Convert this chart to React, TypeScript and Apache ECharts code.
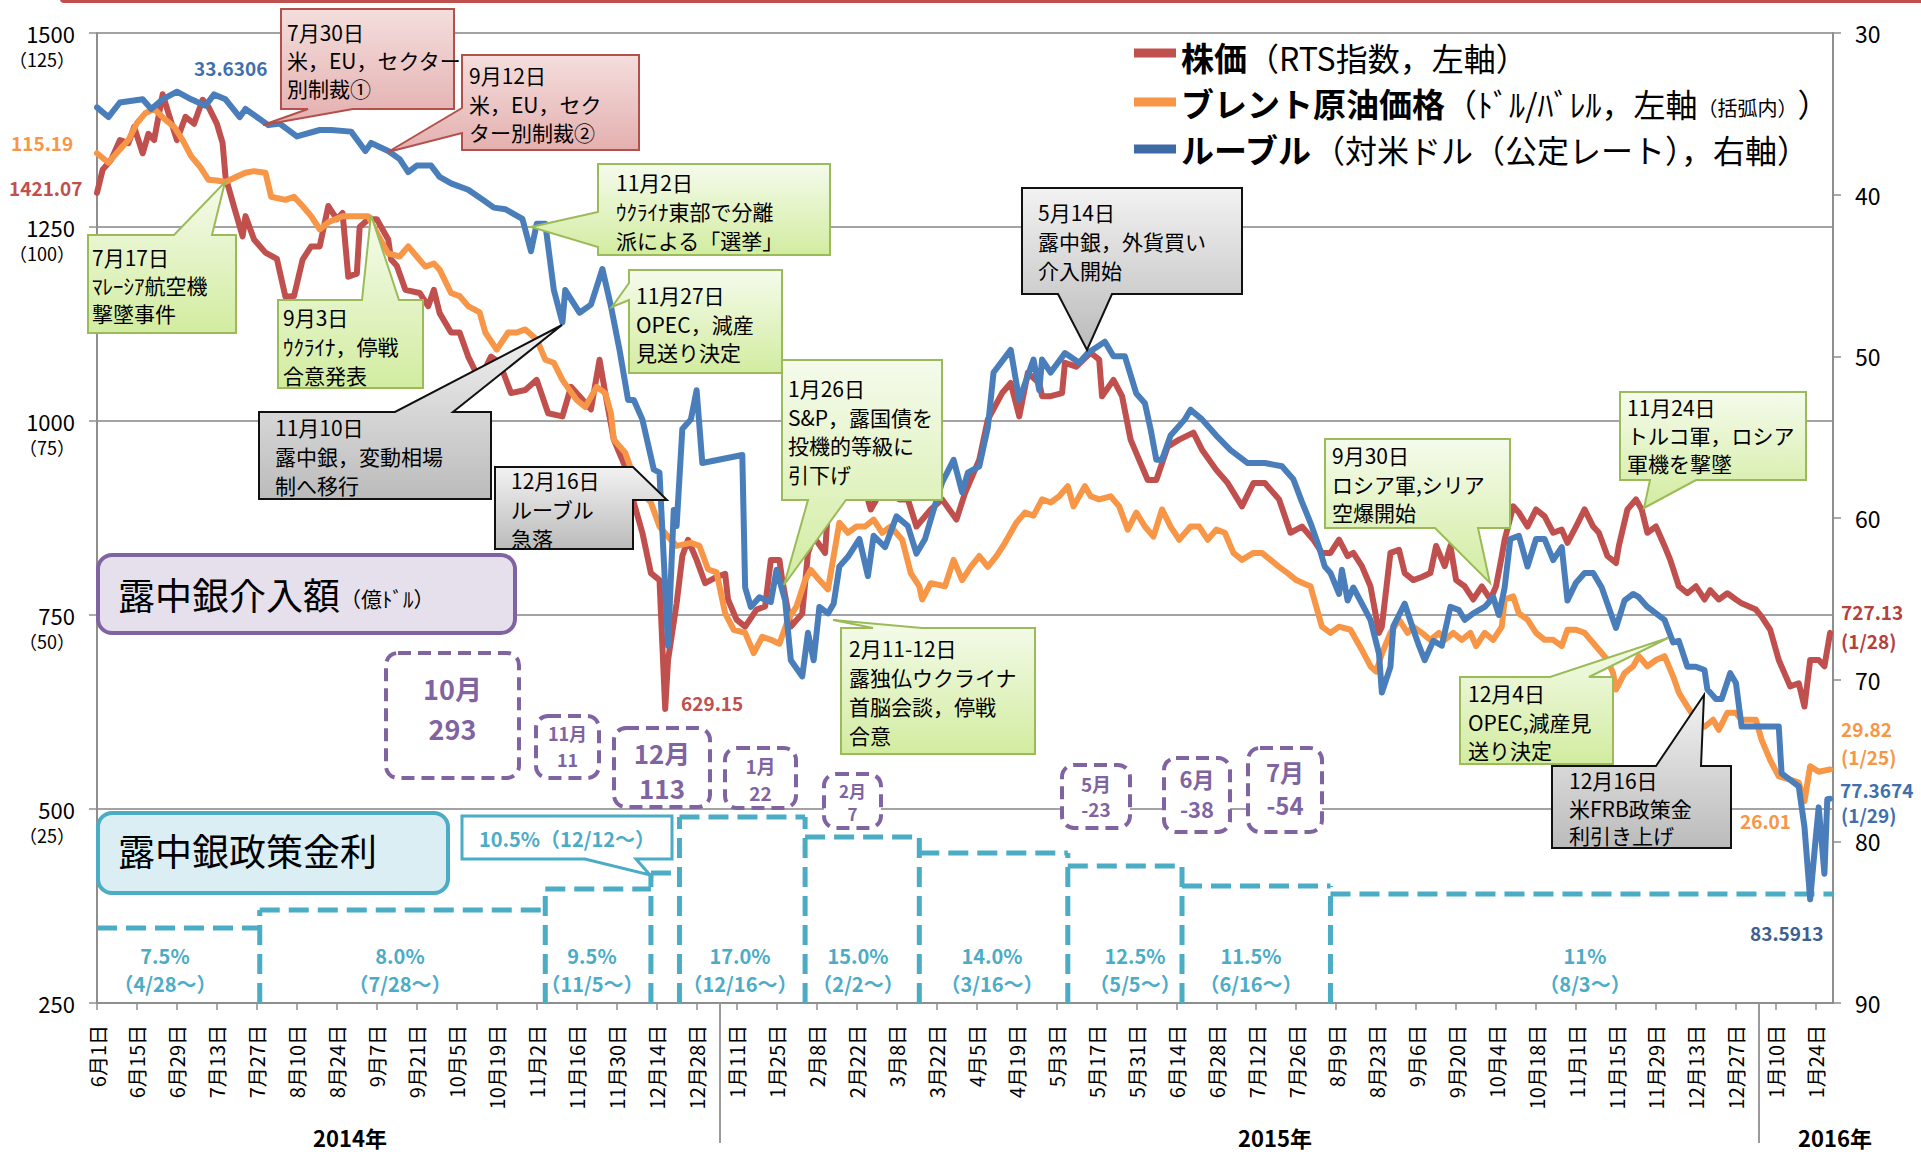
import React, { useEffect, useRef } from 'react';
import * as echarts from 'echarts';

const FONT = '"Noto Sans CJK JP", "Noto Sans", sans-serif';
const RED = '#C0504D';
const ORANGE = '#F79646';
const BLUE = '#4A7EBB';
const TEAL = '#4BACC6';
const PURPLE = '#8064A2';

// x axis: days since 2014-06-01, a tick every 14 days
const xTickLabels = [
  '6月1日', '6月15日', '6月29日', '7月13日', '7月27日', '8月10日', '8月24日', '9月7日', '9月21日', '10月5日', '10月19日',
  '11月2日', '11月16日', '11月30日', '12月14日', '12月28日',
  '1月11日', '1月25日', '2月8日', '2月22日', '3月8日', '3月22日', '4月5日', '4月19日', '5月3日', '5月17日', '5月31日',
  '6月14日', '6月28日', '7月12日', '7月26日', '8月9日', '8月23日', '9月6日', '9月20日', '10月4日', '10月18日', '11月1日',
  '11月15日', '11月29日', '12月13日', '12月27日',
  '1月10日', '1月24日',
];
const yearLabels = ['2014年', '2015年', '2016年'];
const leftTickMain = ['250', '500', '750', '1000', '1250', '1500'];
const leftTickSub = ['', '（25）', '（50）', '（75）', '（100）', '（125）'];

// RTS index (left axis): [day, value]
const rts: [number, number][] = [
  [0, 1294], [2, 1324], [5, 1337], [8, 1362], [11, 1358], [13, 1379], [16, 1345], [18, 1370], [20, 1362], [23, 1421], [26, 1385],
  [28, 1362], [31, 1392], [34, 1383], [37, 1414], [39, 1405], [42, 1383], [44, 1358], [45, 1315], [48, 1276], [51, 1238], [52, 1264],
  [55, 1234], [59, 1217], [63, 1209], [66, 1160], [69, 1161], [72, 1208], [75, 1225], [78, 1225], [81, 1277], [84, 1260], [86, 1268],
  [88, 1186], [91, 1190], [92, 1250], [95, 1260], [98, 1260], [102, 1234], [103, 1208], [105, 1200], [108, 1169], [113, 1165],
  [116, 1148], [118, 1169], [120, 1139], [124, 1114], [127, 1114], [130, 1083], [134, 1053], [138, 1083], [141, 1075], [145, 1036],
  [150, 1040], [154, 1053], [158, 1010], [163, 1006], [166, 1044], [169, 1032], [173, 1015], [176, 1079], [178, 1036], [181, 976],
  [185, 941], [188, 895], [191, 856], [194, 804], [197, 795], [199, 629], [200, 692], [203, 765], [205, 826], [207, 847], [210, 821],
  [213, 791], [217, 799], [220, 803], [221, 770], [224, 744], [227, 735], [231, 757], [234, 761], [236, 821], [239, 821], [240, 795],
  [243, 735], [247, 752], [249, 830], [251, 851], [255, 830], [256, 886], [259, 899], [262, 907], [267, 937], [271, 886], [275, 912],
  [281, 899], [284, 899], [287, 864], [292, 886], [296, 899], [301, 873], [304, 907], [309, 950], [312, 1002], [317, 1036], [320, 1049],
  [323, 1006], [326, 1062], [330, 1049], [331, 1032], [334, 1032], [338, 1036], [339, 1075], [343, 1070], [348, 1088], [351, 1079],
  [352, 1032], [356, 1053], [359, 1032], [362, 976], [365, 950], [368, 924], [371, 924], [375, 967], [379, 976], [384, 985], [387, 963],
  [392, 937], [396, 920], [401, 890], [405, 920], [409, 920], [414, 899], [418, 856], [422, 864], [426, 847], [429, 830], [432, 830],
  [435, 847], [438, 826], [440, 830], [443, 813], [446, 787], [449, 727], [450, 735], [453, 830], [456, 834], [458, 804], [461, 795],
  [464, 799], [467, 804], [469, 839], [472, 813], [474, 839], [476, 795], [479, 787], [482, 770], [485, 787], [488, 770], [490, 787],
  [492, 826], [493, 847], [496, 890], [498, 882], [501, 864], [504, 886], [507, 877], [510, 856], [513, 860], [515, 843], [518, 864],
  [521, 886], [524, 864], [526, 856], [529, 826], [532, 817], [533, 839], [536, 886], [539, 899], [541, 886], [543, 856], [546, 864],
  [549, 839], [551, 821], [554, 787], [557, 778], [560, 787], [563, 770], [565, 782], [568, 770], [571, 778], [574, 770], [576, 765],
  [581, 757], [583, 748], [586, 731], [589, 692], [593, 658], [596, 662], [598, 632], [600, 692], [603, 692], [605, 684], [607, 727],
];

// Brent, USD/bbl (left axis, in brackets)
const brent: [number, number][] = [
  [0, 109.5], [4, 108.3], [8, 110], [11, 111.2], [14, 113.4], [17, 114.7], [20, 115.2], [24, 113.8], [27, 112.9], [30, 111.2],
  [33, 109.1], [36, 107.8], [39, 106.1], [42, 106], [45, 105.8], [49, 106.5], [52, 107], [55, 107.2], [59, 107], [61, 103.9],
  [66, 103.5], [69, 103.9], [72, 102.7], [75, 101.4], [78, 99.7], [81, 100.6], [86, 101.4], [91, 101.4], [95, 101.4], [98, 99.2],
  [102, 96.6], [106, 96.2], [109, 97.5], [112, 96.2], [115, 94.9], [118, 95.3], [120, 94.5], [124, 91.5], [127, 91.1], [130, 89.8],
  [134, 89.0], [136, 86.4], [140, 84.2], [144, 86.4], [147, 86.4], [150, 86.8], [154, 85.5], [157, 82.9], [160, 82.5], [163, 80.3],
  [168, 77.7], [171, 76.8], [175, 79.4], [178, 78.6], [180, 76.0], [181, 72.6], [185, 70.9], [188, 67.8], [191, 65.7], [194, 64.5],
  [197, 61.4], [200, 60.1], [203, 58.9], [208, 59.3], [211, 58.9], [214, 55.9], [217, 55.5], [220, 50.2], [223, 48.1], [227, 47.7],
  [230, 45.1], [233, 47.2], [236, 46.8], [239, 46.3], [242, 49.4], [245, 51.1], [248, 54.5], [250, 55.8], [253, 54.5], [256, 53.3],
  [260, 61.9], [263, 60.6], [266, 61.4], [269, 61.4], [272, 62.3], [275, 60.6], [278, 61.4], [282, 59.7], [285, 55.4], [288, 53.7],
  [289, 52.0], [292, 54.1], [297, 53.7], [300, 57.1], [303, 54.5], [306, 56.2], [309, 57.6], [312, 56.2], [315, 57.6], [318, 59.3],
  [322, 61.9], [325, 63.2], [328, 62.8], [331, 64.9], [334, 64.5], [337, 65.3], [340, 66.6], [342, 64.0], [346, 66.6], [348, 65.3],
  [351, 64.9], [355, 65.3], [358, 64.0], [361, 61.0], [364, 63.2], [367, 61.4], [370, 60.1], [373, 63.6], [376, 61.4], [379, 59.7],
  [383, 61.4], [386, 61.4], [389, 59.7], [392, 61.0], [395, 60.6], [398, 58.0], [401, 57.1], [405, 58.0], [408, 58.0], [411, 57.1],
  [414, 56.2], [417, 55.4], [420, 54.5], [423, 54.0], [425, 53.7], [427, 51.1], [429, 48.5], [432, 47.7], [435, 48.5], [439, 48.1],
  [443, 45.5], [446, 43.4], [448, 42.7], [450, 45.0], [453, 47.7], [456, 49.4], [459, 47.7], [461, 48.5], [464, 47.7], [467, 46.8],
  [470, 47.7], [472, 46.8], [475, 47.7], [478, 46.8], [481, 47.7], [483, 46.0], [486, 47.7], [489, 46.8], [492, 48.5], [493, 52.0],
  [496, 52.4], [498, 50.2], [501, 49.4], [504, 47.7], [507, 46.8], [510, 46.8], [513, 46.0], [515, 48.1], [518, 48.1], [521, 47.7],
  [524, 46.4], [527, 45.1], [529, 44.2], [531, 42.5], [532, 40.4], [535, 42.5], [538, 43.4], [540, 44.7], [543, 43.4], [546, 44.2],
  [549, 44.7], [552, 42.1], [554, 40.0], [557, 38.2], [560, 36.5], [563, 35.6], [566, 36.5], [568, 35.2], [571, 37.4], [574, 37.4],
  [576, 36.5], [581, 36.5], [583, 33.9], [586, 31.3], [589, 29.2], [593, 28.8], [596, 28.4], [598, 26.0], [600, 30.5], [603, 29.8],
  [607, 30.1],
];

// Ruble per USD (right axis, inverted)
const ruble: [number, number][] = [
  [0, 34.6], [4, 35.2], [8, 34.3], [16, 34.1], [19, 34.7], [23, 34.1], [28, 33.63], [33, 34.1], [38, 34.5], [41, 33.8], [45, 34.1],
  [50, 35.2], [52, 34.7], [60, 35.7], [64, 35.6], [70, 36.4], [78, 36.0], [82, 36.0], [89, 36.1], [94, 37.3], [96, 36.8], [102, 37.3],
  [106, 37.8], [109, 38.6], [112, 38.2], [117, 38.2], [120, 38.9], [124, 39.3], [130, 39.7], [135, 40.3], [139, 40.8], [143, 40.9],
  [149, 41.5], [152, 43.5], [154, 41.8], [157, 41.8], [160, 45.9], [163, 47.9], [164, 45.9], [169, 47.3], [173, 46.8], [175, 45.7],
  [177, 44.6], [180, 46.9], [183, 49.6], [186, 52.7], [188, 52.7], [191, 53.9], [195, 57.0], [197, 57.2], [200, 67.9], [202, 59.5],
  [203, 60.5], [205, 54.5], [208, 53.9], [210, 52.1], [212, 56.6], [226, 56.1], [227, 64.3], [229, 65.5], [232, 64.9], [236, 65.2],
  [238, 63.2], [241, 65.1], [243, 68.8], [247, 69.8], [249, 67.1], [251, 68.8], [253, 65.5], [256, 65.9], [258, 65.3], [260, 63.0],
  [263, 62.4], [267, 61.3], [270, 63.6], [272, 61.1], [276, 61.8], [280, 59.9], [284, 60.5], [287, 62.2], [290, 61.3], [293, 59.5],
  [296, 57.8], [300, 56.4], [303, 58.4], [305, 57.2], [309, 56.8], [312, 54.4], [314, 51.0], [320, 49.6], [323, 52.7], [328, 50.2],
  [330, 52.1], [331, 50.2], [334, 51.0], [339, 49.8], [344, 50.4], [347, 49.8], [353, 49.1], [356, 50.0], [360, 50.0], [364, 52.3],
  [367, 52.9], [369, 54.5], [371, 56.4], [373, 56.4], [376, 54.9], [381, 53.9], [383, 53.3], [387, 53.9], [392, 54.9], [397, 55.8],
  [403, 56.6], [409, 56.6], [415, 56.8], [419, 57.6], [422, 59.0], [425, 60.3], [428, 61.8], [430, 63.0], [432, 63.4], [435, 64.7],
  [436, 63.2], [438, 65.1], [440, 64.3], [443, 65.3], [446, 66.3], [449, 68.4], [450, 70.8], [453, 69.2], [454, 66.7], [458, 65.3],
  [461, 66.9], [463, 67.9], [465, 68.8], [468, 67.6], [471, 67.9], [474, 65.5], [477, 65.7], [479, 66.3], [482, 65.9], [486, 65.5],
  [489, 64.9], [491, 66.0], [493, 64.3], [495, 61.3], [498, 61.1], [501, 63.0], [504, 61.3], [507, 61.3], [510, 62.6], [513, 61.8],
  [515, 65.1], [518, 64.0], [521, 63.4], [524, 63.4], [527, 64.3], [529, 65.3], [532, 66.8], [535, 65.1], [538, 64.7], [540, 64.9],
  [543, 65.5], [546, 65.9], [549, 66.3], [552, 67.7], [554, 67.6], [557, 69.2], [560, 69.2], [563, 69.4], [564, 70.6], [567, 71.2],
  [569, 71.2], [572, 69.6], [574, 70.2], [576, 72.9], [589, 72.9], [590, 75.8], [596, 76.6], [598, 79.1], [600, 83.59], [602, 79.7],
  [603, 77.9], [605, 82.0], [606, 77.4], [607, 77.37],
];

// Policy rate steps (start day, label)
const rateStartDay = [0, 57, 157, 194, 204, 248, 288, 340, 380, 432];
const rateLabel = ['7.5%', '8.0%', '9.5%', '10.5%', '17.0%', '15.0%', '14.0%', '12.5%', '11.5%', '11%'];
const rateFrom = ['（4/28～）', '（7/28～）', '（11/5～）', '（12/12～）', '（12/16～）', '（2/2～）', '（3/16～）', '（5/5～）', '（6/16～）', '（8/3～）'];

// CBR intervention (100 million USD)
const interventionMonth = ['10月', '11月', '12月', '1月', '2月', '5月', '6月', '7月'];
const interventionValue = ['293', '11', '113', '22', '7', '-23', '-38', '-54'];

// ---------- layout (pixels) ----------
const GRID = { left: 97, right: 88, top: 33, bottom: 152 };
const W = 1921, H = 1155;
const PLOT_BOTTOM = H - GRID.bottom;
const PLOT_RIGHT = W - GRID.right;
const rateLevelY = [928, 910, 889, 873, 817, 837, 853, 866, 886, 894];
const rateTextX = [165, 400, 592, 0, 740, 858, 992, 1135, 1251, 1585];
const interventionBox = [
  { x: 386, y: 653, w: 133, h: 125, fs: 27, y1: 688, y2: 728 },
  { x: 536, y: 716, w: 63, h: 62, fs: 18, y1: 733, y2: 759 },
  { x: 614, y: 728, w: 96, h: 79, fs: 26, y1: 752, y2: 787 },
  { x: 725, y: 748, w: 71, h: 60, fs: 19, y1: 765, y2: 792 },
  { x: 824, y: 774, w: 57, h: 54, fs: 17, y1: 790, y2: 813 },
  { x: 1062, y: 765, w: 68, h: 63, fs: 19, y1: 783, y2: 808 },
  { x: 1164, y: 758, w: 66, h: 74, fs: 22, y1: 778, y2: 808 },
  { x: 1248, y: 748, w: 74, h: 84, fs: 24, y1: 771, y2: 804 },
];

type Side = 'top' | 'bottom' | 'left' | 'right';
type Callout = {
  lines: string[]; box: [number, number, number, number]; side: Side; a: number; b: number;
  tip: [number, number]; kind: 'green' | 'pink' | 'gray'; tx: number; ty: number; lh: number;
};
const callouts: Callout[] = [
  { lines: ['7月30日', '米，EU，セクター', '別制裁①'], box: [281, 9, 173, 100], side: 'bottom', a: 308, b: 353, tip: [263, 125], kind: 'pink', tx: 287, ty: 32, lh: 28 },
  { lines: ['9月12日', '米，EU，セク', 'ター別制裁②'], box: [462, 55, 177, 95], side: 'left', a: 108, b: 133, tip: [388, 152], kind: 'pink', tx: 469, ty: 75, lh: 28.5 },
  { lines: ['11月2日', 'ｳｸﾗｲﾅ東部で分離', '派による「選挙」'], box: [598, 164, 232, 91], side: 'left', a: 212, b: 247, tip: [531, 227], kind: 'green', tx: 616, ty: 182, lh: 29 },
  { lines: ['11月27日', 'OPEC，減産', '見送り決定'], box: [629, 270, 153, 103], side: 'left', a: 283, b: 300, tip: [612, 307], kind: 'green', tx: 636, ty: 295, lh: 28.5 },
  { lines: ['7月17日', 'ﾏﾚｰｼｱ航空機', '撃墜事件'], box: [88, 235, 148, 98], side: 'top', a: 174, b: 212, tip: [225, 182], kind: 'green', tx: 92, ty: 257, lh: 28 },
  { lines: ['9月3日', 'ｳｸﾗｲﾅ，停戦', '合意発表'], box: [278, 300, 145, 88], side: 'top', a: 362, b: 399, tip: [371, 215], kind: 'green', tx: 283, ty: 317, lh: 29 },
  { lines: ['11月10日', '露中銀，変動相場', '制へ移行'], box: [259, 412, 232, 87], side: 'top', a: 395, b: 453, tip: [562, 325], kind: 'gray', tx: 275, ty: 427, lh: 29 },
  { lines: ['12月16日', 'ルーブル', '急落'], box: [495, 467, 138, 82], side: 'right', a: 467, b: 500, tip: [667, 500], kind: 'gray', tx: 511, ty: 480, lh: 29 },
  { lines: ['5月14日', '露中銀，外貨買い', '介入開始'], box: [1022, 188, 220, 106], side: 'bottom', a: 1058, b: 1112, tip: [1087, 350], kind: 'gray', tx: 1038, ty: 212, lh: 29 },
  { lines: ['1月26日', 'S&P，露国債を', '投機的等級に', '引下げ'], box: [782, 360, 160, 140], side: 'bottom', a: 808, b: 846, tip: [784, 585], kind: 'green', tx: 788, ty: 388, lh: 28.5 },
  { lines: ['2月11-12日', '露独仏ウクライナ', '首脳会談，停戦', '合意'], box: [841, 628, 194, 126], side: 'top', a: 873, b: 922, tip: [833, 620], kind: 'green', tx: 849, ty: 648, lh: 29 },
  { lines: ['9月30日', 'ロシア軍,シリア', '空爆開始'], box: [1325, 439, 185, 89], side: 'bottom', a: 1435, b: 1478, tip: [1490, 583], kind: 'green', tx: 1332, ty: 455, lh: 28.5 },
  { lines: ['11月24日', 'トルコ軍，ロシア', '軍機を撃墜'], box: [1620, 392, 186, 88], side: 'bottom', a: 1650, b: 1696, tip: [1644, 508], kind: 'green', tx: 1627, ty: 407, lh: 28 },
  { lines: ['12月4日', 'OPEC,減産見', '送り決定'], box: [1460, 677, 153, 87], side: 'top', a: 1550, b: 1589, tip: [1668, 638], kind: 'green', tx: 1468, ty: 693, lh: 28.5 },
  { lines: ['12月16日', '米FRB政策金', '利引き上げ'], box: [1552, 766, 179, 82], side: 'top', a: 1656, b: 1701, tip: [1704, 695], kind: 'gray', tx: 1569, ty: 780, lh: 27.5 },
];

const valueLabels = [
  { t: '33.6306', x: 194, y: 67, c: '#3F6FAE' },
  { t: '115.19', x: 11, y: 142, c: ORANGE },
  { t: '1421.07', x: 9, y: 187, c: RED },
  { t: '629.15', x: 681, y: 702, c: RED },
  { t: '727.13', x: 1841, y: 611, c: '#B5403D' },
  { t: '(1/28)', x: 1841, y: 640, c: '#B5403D' },
  { t: '29.82', x: 1841, y: 728, c: ORANGE },
  { t: '(1/25)', x: 1841, y: 756, c: ORANGE },
  { t: '77.3674', x: 1840, y: 789, c: '#3F6FAE' },
  { t: '(1/29)', x: 1841, y: 814, c: '#3F6FAE' },
  { t: '26.01', x: 1740, y: 820, c: ORANGE },
  { t: '83.5913', x: 1750, y: 932, c: '#3D5F91' },
];

function calloutPoints(c: Callout): number[][] {
  const [x, y, w, h] = c.box;
  const x2 = x + w, y2 = y + h;
  const p: number[][] = [[x, y]];
  if (c.side === 'top') p.push([c.a, y], c.tip, [c.b, y]);
  p.push([x2, y]);
  if (c.side === 'right') p.push([x2, c.a], c.tip, [x2, c.b]);
  p.push([x2, y2]);
  if (c.side === 'bottom') p.push([c.b, y2], c.tip, [c.a, y2]);
  p.push([x, y2]);
  if (c.side === 'left') p.push([x, c.b], c.tip, [x, c.a]);
  return p;
}

function calloutStyle(kind: string) {
  if (kind === 'green') return { top: '#F5FBEC', bottom: '#D2ECA0', stroke: '#9BBB59' };
  if (kind === 'pink') return { top: '#F4DEDD', bottom: '#E3AFAE', stroke: '#B3504C' };
  return { top: '#F2F2F2', bottom: '#BBBBBB', stroke: '#111111' };
}

export default function App() {
  const ref = useRef<HTMLDivElement>(null);
  useEffect(() => {
    if (!ref.current) return;
    const chart = echarts.init(ref.current, undefined, { renderer: 'svg' });
    const axisGray = '#8E8E8E';
    chart.setOption({
      animation: false,
      backgroundColor: '#ffffff',
      textStyle: { fontFamily: FONT },
      grid: { ...GRID, containLabel: false },
      xAxis: {
        type: 'value', min: 0, max: 608, interval: 14,
        axisLine: { lineStyle: { color: axisGray, width: 2 } },
        axisTick: { show: true, length: 7, lineStyle: { color: axisGray, width: 1.5 } },
        splitLine: { show: false },
        axisLabel: {
          rotate: 90, margin: 22, fontSize: 20, color: '#000', fontFamily: FONT,
          showMaxLabel: false,
          formatter: (v: number) => (v % 14 === 0 ? xTickLabels[v / 14] || '' : ''),
        },
      },
      yAxis: [
        {
          type: 'value', min: 250, max: 1500, interval: 250, position: 'left',
          axisLine: { show: true, lineStyle: { color: axisGray, width: 2 } },
          axisTick: { show: true, length: 8, lineStyle: { color: axisGray, width: 1.5 } },
          splitLine: { show: true, lineStyle: { color: '#A3A3A3', width: 2 } },
          axisLabel: {
            margin: 22, color: '#000', fontFamily: FONT, padding: [26, 0, 0, 0], align: 'right',
            formatter: (v: number) => {
              const i = leftTickMain.indexOf(String(v));
              return `{m|${leftTickMain[i]}}\n{s|${leftTickSub[i] || ' '}}`;
            },
            rich: {
              m: { fontSize: 22, lineHeight: 26, color: '#000', fontFamily: FONT, align: 'right' },
              s: { fontSize: 18, lineHeight: 26, color: '#000', fontFamily: FONT, align: 'right' },
            },
          },
        },
        {
          type: 'value', min: 30, max: 90, interval: 10, inverse: true, position: 'right',
          axisLine: { show: true, lineStyle: { color: axisGray, width: 2 } },
          axisTick: { show: true, length: 8, lineStyle: { color: axisGray, width: 1.5 } },
          splitLine: { show: false },
          axisLabel: { margin: 22, fontSize: 23, color: '#000', fontFamily: FONT },
        },
        { type: 'value', min: 0, max: 125, show: false, position: 'left' },
      ],
      series: [
        {
          name: '株価', type: 'line', yAxisIndex: 0, data: rts, showSymbol: false, symbol: 'none',
          lineStyle: { color: RED, width: 6, cap: 'round', join: 'round' }, z: 3,
        },
        {
          name: 'ブレント', type: 'line', yAxisIndex: 2, data: brent, showSymbol: false, symbol: 'none',
          lineStyle: { color: ORANGE, width: 6, cap: 'round', join: 'round' }, z: 4,
        },
        {
          name: 'ルーブル', type: 'line', yAxisIndex: 1, data: ruble, showSymbol: false, symbol: 'none',
          lineStyle: { color: BLUE, width: 6, cap: 'round', join: 'round' }, z: 5,
        },
      ],
    });

    const px = (d: number) => chart.convertToPixel({ xAxisIndex: 0 }, d) as number;
    const g: any[] = [];

    // top red bar
    g.push({ type: 'rect', shape: { x: 60, y: -8, width: 1880, height: 11, r: 4 }, style: { fill: RED }, z: 1 });

    // policy rate dashed steps
    const rateX = rateStartDay.map((d, i) => (i === 0 ? GRID.left : px(d)));
    const dash = { stroke: TEAL, lineWidth: 5, lineDash: [20, 9], fill: null };
    rateX.forEach((x, i) => {
      const xEnd = i + 1 < rateX.length ? rateX[i + 1] : PLOT_RIGHT;
      g.push({ type: 'polyline', shape: { points: [[x, rateLevelY[i]], [xEnd, rateLevelY[i]]] }, style: dash, z: 1 });
      if (i > 0) {
        const top = Math.min(rateLevelY[i - 1], rateLevelY[i]);
        g.push({ type: 'polyline', shape: { points: [[x, PLOT_BOTTOM], [x, top]] }, style: dash, z: 1 });
      }
      if (i !== 3) {
        g.push({
          type: 'text', z: 2,
          style: {
            text: `${rateLabel[i]}\n${rateFrom[i]}`, x: rateTextX[i], y: 969, align: 'center', verticalAlign: 'middle',
            fontSize: 20, fontWeight: 'bold', fontFamily: FONT, fill: TEAL, lineHeight: 28,
          },
        });
      }
    });
    // 10.5% callout box
    g.push({
      type: 'polygon', z: 6,
      shape: { points: [[462, 816], [672, 816], [672, 859], [636, 859], [650, 875], [585, 859], [462, 859]] },
      style: { fill: '#fff', stroke: TEAL, lineWidth: 3 },
    });
    g.push({
      type: 'text', z: 7,
      style: {
        text: `${rateLabel[3]}${rateFrom[3]}`, x: 567, y: 838, align: 'center', verticalAlign: 'middle',
        fontSize: 20, fontWeight: 'bold', fontFamily: FONT, fill: TEAL,
      },
    });

    // label boxes
    g.push({
      type: 'rect', z: 6, shape: { x: 98, y: 555, width: 417, height: 78, r: 14 },
      style: { fill: '#E6E0EC', stroke: PURPLE, lineWidth: 4 },
    });
    g.push({
      type: 'text', z: 7,
      style: {
        text: '{a|露中銀介入額}{b|（億ﾄﾞﾙ）}', x: 118, y: 594, verticalAlign: 'middle',
        rich: {
          a: { fontSize: 37, fontFamily: FONT, fill: '#000', fontWeight: 'normal' },
          b: { fontSize: 21, fontFamily: FONT, fill: '#000', padding: [8, 0, 0, 0] },
        },
      },
    });
    g.push({
      type: 'rect', z: 6, shape: { x: 98, y: 813, width: 350, height: 80, r: 14 },
      style: { fill: '#DAEEF3', stroke: TEAL, lineWidth: 4 },
    });
    g.push({
      type: 'text', z: 7,
      style: { text: '露中銀政策金利', x: 118, y: 850, verticalAlign: 'middle', fontSize: 37, fontFamily: FONT, fill: '#000' },
    });

    // intervention dashed boxes
    interventionBox.forEach((b, i) => {
      g.push({
        type: 'rect', z: 6, shape: { x: b.x, y: b.y, width: b.w, height: b.h, r: 12 },
        style: { fill: '#fff', stroke: PURPLE, lineWidth: 4, lineDash: [13, 7] },
      });
      const cx = b.x + b.w / 2;
      g.push({
        type: 'text', z: 7,
        style: { text: interventionMonth[i], x: cx, y: b.y1, align: 'center', verticalAlign: 'middle', fontSize: b.fs, fontWeight: 'bold', fontFamily: FONT, fill: PURPLE },
      });
      g.push({
        type: 'text', z: 7,
        style: { text: interventionValue[i], x: cx, y: b.y2, align: 'center', verticalAlign: 'middle', fontSize: b.fs, fontWeight: 'bold', fontFamily: FONT, fill: PURPLE },
      });
    });

    // callouts
    callouts.forEach((c) => {
      const s = calloutStyle(c.kind);
      g.push({
        type: 'polygon', z: 20,
        shape: { points: calloutPoints(c) },
        style: {
          fill: new echarts.graphic.LinearGradient(0, 0, 0, 1, [
            { offset: 0, color: s.top },
            { offset: 1, color: s.bottom },
          ]),
          stroke: s.stroke, lineWidth: 2, lineJoin: 'miter',
        },
      });
      g.push({
        type: 'text', z: 21,
        style: {
          text: c.lines.join('\n'), x: c.tx, y: c.ty - c.lh / 2, verticalAlign: 'top',
          fontSize: 21, lineHeight: c.lh, fontFamily: FONT, fill: '#000',
        },
      });
    });

    // value labels
    valueLabels.forEach((v) => {
      g.push({
        type: 'text', z: 22,
        style: { text: v.t, x: v.x, y: v.y, verticalAlign: 'middle', fontSize: 19, fontWeight: 'bold', fontFamily: FONT, fill: v.c },
      });
    });

    // legend
    const legendRows = [
      { color: RED, y: 53, ty: 57, text: '{b|株価}{n|（RTS指数，左軸）}' },
      { color: ORANGE, y: 102, ty: 103, text: '{b|ブレント原油価格}{n|（ﾄﾞﾙ/ﾊﾞﾚﾙ，左軸}{s|（括弧内）}{n|）}' },
      { color: '#3E6BA6', y: 149, ty: 149, text: '{b|ルーブル}{n|（対米ドル（公定レート），右軸）}' },
    ];
    legendRows.forEach((r) => {
      g.push({ type: 'line', z: 22, shape: { x1: 1134, y1: r.y, x2: 1176, y2: r.y }, style: { stroke: r.color, lineWidth: 9 } });
      g.push({
        type: 'text', z: 22,
        style: {
          text: r.text, x: 1181, y: r.ty, verticalAlign: 'middle',
          rich: {
            b: { fontSize: 33, fontWeight: 'bold', fontFamily: FONT, fill: '#000' },
            n: { fontSize: 32, fontFamily: FONT, fill: '#000' },
            s: { fontSize: 20, fontFamily: FONT, fill: '#000', padding: [8, 0, 0, 0] },
          },
        },
      });
    });

    // year separators and labels
    [720, 1759].forEach((x) => {
      g.push({ type: 'line', z: 2, shape: { x1: x, y1: PLOT_BOTTOM, x2: x, y2: 1143 }, style: { stroke: '#9A9A9A', lineWidth: 2 } });
    });
    [350, 1275, 1835].forEach((x, i) => {
      g.push({
        type: 'text', z: 2,
        style: { text: yearLabels[i], x, y: 1137, align: 'center', verticalAlign: 'middle', fontSize: 22, fontWeight: 'bold', fontFamily: FONT, fill: '#000' },
      });
    });

    chart.setOption({ graphic: { elements: g } });
    return () => chart.dispose();
  }, []);
  return <div ref={ref} style={{ position: 'absolute', left: 0, top: 0, width: W, height: H }} />;
}
